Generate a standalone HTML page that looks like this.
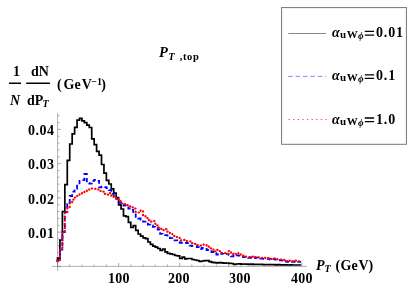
<!DOCTYPE html>
<html><head><meta charset="utf-8"><title>chart</title>
<style>
html,body{margin:0;padding:0;background:#fff;}
body{width:415px;height:293px;overflow:hidden;position:relative;font-family:"Liberation Serif",serif;font-weight:bold;color:#000;}
svg{position:absolute;left:0;top:0;}
.t{position:absolute;white-space:nowrap;line-height:1;will-change:transform;}
</style></head><body>
<svg width="415" height="293" viewBox="0 0 415 293">
<rect x="281.6" y="7.6" width="124.8" height="136.7" fill="#fff" stroke="#747474" stroke-width="1"/>
<path d="M288.3 33.5H326" stroke="#555" stroke-width="0.7" fill="none"/>
<path d="M288.2 76.4H326" stroke="#5c5cff" stroke-width="0.75" stroke-dasharray="4.5 2.9" fill="none"/>
<path d="M289.0 119.5H326.2" stroke="#ff4040" stroke-width="1.1" stroke-dasharray="0.4 4.2" stroke-linecap="round" fill="none"/>
<path d="M57.6 113.1V271M52 266.4H307" stroke="#7c7c7c" stroke-width="0.6" fill="none"/>
<path d="M57.50 266.4v-3.3M69.72 266.4v-1.9M81.94 266.4v-1.9M94.16 266.4v-1.9M106.38 266.4v-1.9M118.60 266.4v-3.3M130.82 266.4v-1.9M143.04 266.4v-1.9M155.26 266.4v-1.9M167.48 266.4v-1.9M179.70 266.4v-3.3M191.92 266.4v-1.9M204.14 266.4v-1.9M216.36 266.4v-1.9M228.58 266.4v-1.9M240.80 266.4v-3.3M253.02 266.4v-1.9M265.24 266.4v-1.9M277.46 266.4v-1.9M289.68 266.4v-1.9M301.90 266.4v-3.3" stroke="#707070" stroke-width="0.6" fill="none"/>
<path d="M57.6 266.40h3.3M57.6 259.55h1.9M57.6 252.70h1.9M57.6 245.85h1.9M57.6 239.00h1.9M57.6 232.15h3.3M57.6 225.30h1.9M57.6 218.45h1.9M57.6 211.60h1.9M57.6 204.75h1.9M57.6 197.90h3.3M57.6 191.05h1.9M57.6 184.20h1.9M57.6 177.35h1.9M57.6 170.50h1.9M57.6 163.65h3.3M57.6 156.80h1.9M57.6 149.95h1.9M57.6 143.10h1.9M57.6 136.25h1.9M57.6 129.40h3.3M57.6 122.55h1.9M57.6 115.70h1.9" stroke="#707070" stroke-width="0.6" fill="none"/>
<path d="M57.50 261.7V258.1H59.94V240.2H62.39V211.5H64.83V184.7H67.28V160.4H69.72V144.0H72.16V133.9H74.61V127.3H77.05V120.1H79.50V118.4H81.94V120.8H84.38V122.7H86.83V125.2H89.27V127.5H91.72V138.9H94.16V144.7H96.60V151.4H99.05V155.1H101.49V164.5H103.94V173.1H106.38V180.3H108.82V184.0H111.27V188.8H113.71V193.1H116.16V197.5H118.60V204.8H121.04V209.0H123.49V215.9H125.93V216.6H128.38V222.4H130.82V227.5H133.26V225.7H135.71V230.4H138.15V234.0H140.60V236.1H143.04V237.9H145.48V238.7H147.93V242.0H150.37V244.3H152.82V246.1H155.26V247.1H157.70V248.5H160.15V250.4H162.59V249.0H165.04V251.9H167.48V253.3H169.92V253.8H172.37V254.5H174.81V255.5H177.26V255.9H179.70V258.5H182.14V257.1H184.59V258.8H187.03V258.5H189.48V258.5H191.92V259.5H194.36V260.0H196.81V260.5H199.25V261.4H201.70V261.0H204.14V260.7H206.58V260.7H209.03V261.7H211.47V262.4H213.92V262.6H216.36V262.8H218.80V262.7H221.25V262.9H223.69V263.1H226.14V263.0H228.58V263.3H231.02V263.5H233.47V264.3H235.91V264.0H238.36V263.9H240.80V264.1H243.24V264.0H245.69V264.2H248.13V264.3H250.58V264.2H253.02V264.4H255.46V264.3H257.91V264.5H260.35V264.4H262.80V264.6H265.24V264.5H267.68V264.6H270.13V264.7H272.57V264.6H275.02V264.8H277.46V264.7H279.90V264.8H282.35V264.9H284.79V264.8H287.24V265.0H289.68V264.9H292.12V265.0H294.57V265.0H297.01V265.0H299.46V265.0H301.17" stroke="#000" stroke-width="1.7" fill="none" stroke-linejoin="miter"/>
<path d="M57.50 261.5V260.5H59.94V249.5H62.39V232.0H64.83V212.0H67.28V204.0H69.72V196.0H72.16V191.7H74.61V188.8H77.05V184.5H79.50V180.8H81.94V180.1H84.38V174.0H86.83V183.0H89.27V183.7H91.72V180.8H94.16V179.8H96.60V180.8H99.05V187.3H101.49V186.6H103.94V187.2H106.38V188.1H108.82V190.2H111.27V193.9H113.71V196.0H116.16V198.9H118.60V202.5H121.04V204.7H123.49V205.6H125.93V206.3H128.38V208.5H130.82V210.0H133.26V212.2H135.71V218.1H138.15V218.5H140.60V219.5H143.04V221.7H145.48V222.4H147.93V224.6H150.37V225.3H152.82V226.9H155.26V227.6H157.70V229.5H160.15V233.9H162.59V234.2H165.04V235.2H167.48V236.7H169.92V238.1H172.37V240.3H174.81V240.3H177.26V241.7H179.70V242.8H182.14V242.5H184.59V242.8H187.03V243.2H189.48V245.6H191.92V246.1H194.36V246.1H196.81V247.1H199.25V249.0H201.70V248.0H204.14V248.0H206.58V250.0H209.03V250.0H211.47V252.0H213.92V253.1H216.36V254.5H218.80V253.1H221.25V253.9H223.69V254.3H226.14V253.9H228.58V254.9H231.02V256.3H233.47V254.9H235.91V255.3H238.36V255.7H240.80V256.7H243.24V257.2H245.69V257.5H248.13V257.8H250.58V257.5H253.02V258.2H255.46V257.7H257.91V258.2H260.35V258.6H262.80V258.8H265.24V258.6H267.68V258.9H270.13V259.5H272.57V259.2H275.02V259.6H277.46V260.2H279.90V260.3H282.35V260.6H284.79V261.5H287.24V261.8H289.68V261.4H292.12V261.8H294.57V261.4H297.01V261.8H299.46V261.8H301.17" stroke="#0000ff" stroke-width="1.8" fill="none" stroke-dasharray="4.3 2.9" stroke-dashoffset="1.62"/>
<path d="M57.50 261.5V260.5H59.94V249.5H62.39V231.5H64.83V213.0H67.28V208.3H69.72V203.3H72.16V199.6H74.61V197.5H77.05V196.0H79.50V193.9H81.94V192.4H84.38V191.0H86.83V190.0H89.27V189.5H91.72V188.5H94.16V188.8H96.60V189.5H99.05V191.0H101.49V191.7H103.94V193.9H106.38V194.6H108.82V193.0H111.27V196.0H113.71V196.7H116.16V198.2H118.60V201.2H121.04V203.5H123.49V204.2H125.93V205.2H128.38V206.3H130.82V207.4H133.26V208.5H135.71V212.5H138.15V212.5H140.60V210.4H143.04V215.2H145.48V218.1H147.93V220.2H150.37V221.7H152.82V221.0H155.26V225.3H157.70V227.6H160.15V228.8H162.59V230.2H165.04V229.2H167.48V231.6H169.92V233.8H172.37V236.0H174.81V237.0H177.26V237.0H179.70V240.3H182.14V239.9H184.59V241.0H187.03V241.0H189.48V241.3H191.92V243.2H194.36V243.9H196.81V245.1H199.25V245.6H201.70V244.6H204.14V245.0H206.58V246.7H209.03V248.4H211.47V249.6H213.92V251.4H216.36V249.8H218.80V251.0H221.25V252.8H223.69V253.1H226.14V253.9H228.58V251.0H231.02V253.9H233.47V254.6H235.91V253.1H238.36V253.9H240.80V255.7H243.24V256.3H245.69V256.7H248.13V257.0H250.58V256.7H253.02V257.4H255.46V257.0H257.91V257.4H260.35V257.8H262.80V258.1H265.24V257.8H267.68V258.1H270.13V258.9H272.57V258.4H275.02V258.9H277.46V259.6H279.90V259.6H282.35V259.9H284.79V261.0H287.24V261.3H289.68V260.7H292.12V261.3H294.57V260.7H297.01V261.3H299.46V261.3H301.17" stroke="#ff0000" stroke-width="2.2" fill="none" stroke-dasharray="0.3 3.4" stroke-linecap="round"/>
<path d="M9 83.3H21M26.2 83.3H49.9" stroke="#000" stroke-width="1.4" fill="none"/>
<path d="M364.8 31.40h9.3M364.8 35.05h9.3M364.8 74.80h9.3M364.8 78.45h9.3M364.8 118.00h9.3M364.8 121.65h9.3" stroke="#000" stroke-width="1.3" fill="none"/>
</svg>
<div class="t" style="left:27.5px;top:124px;font-size:14px;letter-spacing:0.5px;">0.04</div>
<div class="t" style="left:27.5px;top:158px;font-size:14px;letter-spacing:0.5px;">0.03</div>
<div class="t" style="left:27.5px;top:193px;font-size:14px;letter-spacing:0.5px;">0.02</div>
<div class="t" style="left:27.5px;top:227px;font-size:14px;letter-spacing:0.5px;">0.01</div>
<div class="t" style="left:108.0px;top:271.6px;font-size:14px;letter-spacing:0.2px;">100</div>
<div class="t" style="left:168.4px;top:271.6px;font-size:14px;letter-spacing:0.2px;">200</div>
<div class="t" style="left:229.4px;top:271.6px;font-size:14px;letter-spacing:0.2px;">300</div>
<div class="t" style="left:290.5px;top:271.6px;font-size:14px;letter-spacing:0.2px;">400</div>
<div class="t" style="left:12.6px;top:65px;font-size:14px;">1</div>
<div class="t" style="left:10.0px;top:94px;font-size:14px;font-style:italic;">N</div>
<div class="t" style="left:30.6px;top:65px;font-size:14px;">dN</div>
<div class="t" style="left:27.3px;top:94px;font-size:14px;">dP<span style="font-size:10px;font-style:italic;position:relative;top:2.3px;margin-left:-0.8px;">T</span></div>
<div class="t" style="left:57.2px;top:77.8px;font-size:14px;">(<span style="margin-left:1.9px">Ge</span><span style="margin-left:1.1px">V</span><span style="font-size:10px;position:relative;top:-4.3px;margin-left:-0.7px;">−1</span><span style="margin-left:-0.7px">)</span></div>
<div class="t" style="left:159.3px;top:45.2px;font-size:14.5px;font-style:italic;">P<span style="font-size:10.5px;position:relative;top:2.5px;margin-left:0.3px;">T</span><span style="font-size:10.5px;position:relative;top:2.5px;font-style:normal;letter-spacing:0.6px;margin-left:5.2px;">,top</span></div>
<div class="t" style="left:316.0px;top:259.17px;font-size:14px;"><span style="font-style:italic;">P<span style="font-size:10px;position:relative;top:2.0px;margin-left:-0.2px;">T</span></span><span style="margin-left:4.9px;">(</span><span style="margin-left:0.5px">Ge</span><span style="margin-left:0.9px">V</span><span style="margin-left:-0.2px">)</span></div>
<div class="t" style="left:331.60px;top:26px;font-size:14px;font-style:italic;">α</div>
<div class="t" style="left:340.00px;top:29px;font-size:11px;letter-spacing:0.6px;">uW</div>
<div class="t" style="left:357.80px;top:32px;font-size:9.5px;font-style:italic;">ϕ</div>
<div class="t" style="left:376.00px;top:26px;font-size:14px;letter-spacing:0.85px;">0.01</div>
<div class="t" style="left:331.60px;top:69px;font-size:14px;font-style:italic;">α</div>
<div class="t" style="left:340.00px;top:72px;font-size:11px;letter-spacing:0.6px;">uW</div>
<div class="t" style="left:357.80px;top:75px;font-size:9.5px;font-style:italic;">ϕ</div>
<div class="t" style="left:376.00px;top:69px;font-size:14px;letter-spacing:0.85px;">0.1</div>
<div class="t" style="left:331.60px;top:113px;font-size:14px;font-style:italic;">α</div>
<div class="t" style="left:340.00px;top:116px;font-size:11px;letter-spacing:0.6px;">uW</div>
<div class="t" style="left:357.80px;top:119px;font-size:9.5px;font-style:italic;">ϕ</div>
<div class="t" style="left:376.00px;top:113px;font-size:14px;letter-spacing:0.85px;">1.0</div>

</body></html>
